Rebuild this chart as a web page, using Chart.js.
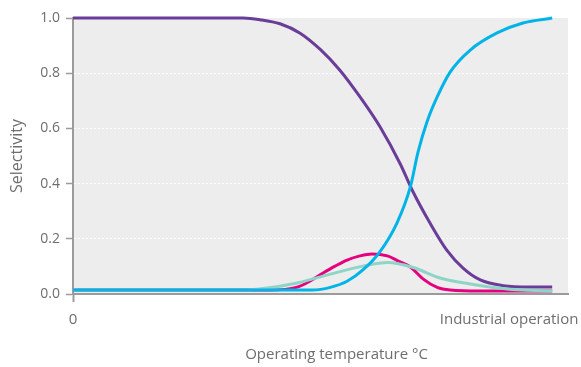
<!DOCTYPE html>
<html>
<head>
<meta charset="utf-8">
<script src="https://cdn.jsdelivr.net/npm/chart.js@4"></script>
<style>
html, body { margin: 0; padding: 0; background: #fff; }
</style>
</head>
<body>
<canvas id="myChart" width="581" height="367"></canvas>
<script>
// x positions are "% of the way to industrial operation"
let xLabels = ['0', 'Industrial operation'];
let xLabelPos = [0, 91];
let yTicks = [0, 0.2, 0.4, 0.6, 0.8, 1.0];
let xTitle = 'Operating temperature °C';
let yTitle = 'Selectivity';

let purpleX = [0, 35.5, 39, 43.2, 47.4, 51.6, 55.7, 59.9, 64.1, 68.3, 70.8, 74.5, 78, 81.4, 85, 89.8, 95.4, 100];
let purpleY = [1.0, 1.0, 0.994, 0.979, 0.945, 0.886, 0.811, 0.714, 0.605, 0.471, 0.376, 0.257, 0.159, 0.094, 0.051, 0.030, 0.025, 0.025];

let cyanX = [0, 50, 53.7, 57.2, 60.5, 64, 67.6, 70.4, 72, 73.9, 76, 78.7, 82.9, 88.5, 93.9, 100];
let cyanY = [0.0145, 0.0145, 0.024, 0.046, 0.087, 0.152, 0.257, 0.388, 0.514, 0.625, 0.714, 0.804, 0.884, 0.946, 0.982, 1.0];

let magentaX = [0, 41, 46.8, 49.5, 52.2, 54.7, 57.2, 59.9, 62.4, 65.6, 67.8, 70.4, 73.1, 76, 78.7, 85, 100];
let magentaY = [0.0145, 0.0145, 0.025, 0.047, 0.076, 0.101, 0.123, 0.138, 0.145, 0.138, 0.12, 0.098, 0.054, 0.024, 0.0145, 0.011, 0.011];

let tealX = [0, 35, 39.7, 46.8, 53.7, 60.5, 65.6, 71, 76.6, 82.9, 88.5, 93.9, 100];
let tealY = [0.0145, 0.0145, 0.02, 0.04, 0.072, 0.101, 0.114, 0.096, 0.058, 0.036, 0.022, 0.0145, 0.011];

function pts(xs, ys) {
    return xs.map((x, i) => ({x: x, y: ys[i]}));
}

const grey = '#6e6e6e';
const axisGrey = '#9b9b9b';
const family = '"Open Sans", sans-serif';

const plotBg = {
    id: 'plotBg',
    beforeDraw(chart) {
        const a = chart.chartArea;
        const ctx = chart.ctx;
        ctx.save();
        ctx.fillStyle = '#ededed';
        ctx.fillRect(a.left, a.top, a.right - a.left, a.bottom - a.top);
        ctx.restore();
    },
    // x title sits a little right of the plot centre in the original
    afterDraw(chart) {
        const a = chart.chartArea;
        const ctx = chart.ctx;
        ctx.save();
        ctx.font = '15px ' + family;
        ctx.fillStyle = grey;
        ctx.textAlign = 'center';
        ctx.textBaseline = 'middle';
        ctx.fillText(xTitle, (a.left + a.right) / 2 + 16, chart.height - 12);
        ctx.restore();
    }
};

function line(data, color) {
    return {
        data: data,
        borderColor: color,
        borderWidth: 3,
        pointRadius: 0,
        fill: false,
        cubicInterpolationMode: 'monotone',
        clip: 5
    };
}

const ctx = document.getElementById('myChart');

var chart = new Chart(ctx, {
    type: 'line',
    data: {
        datasets: [
            line(pts(cyanX, cyanY), '#00b4e8'),
            line(pts(tealX, tealY), '#8ed5c8'),
            line(pts(magentaX, magentaY), '#e5007e'),
            line(pts(purpleX, purpleY), '#6a3d98')
        ]
    },
    plugins: [plotBg],
    options: {
        responsive: false,
        animation: false,
        layout: {padding: {left: 0, right: 13, top: 18, bottom: 0}},
        plugins: {legend: {display: false}, tooltip: {enabled: false}},
        scales: {
            x: {
                type: 'linear',
                min: 0,
                max: 103.3,
                afterBuildTicks: (s) => { s.ticks = xLabelPos.map(v => ({value: v})); },
                afterFit: (s) => { s.height = 73; s.paddingLeft = 0; s.paddingRight = 0; },
                ticks: {
                    autoSkip: false,
                    maxRotation: 0,
                    padding: 9,
                    color: grey,
                    font: {family: family, size: 15},
                    callback: (v, i) => xLabels[i]
                },
                grid: {
                    drawOnChartArea: false,
                    tickLength: 8,
                    tickWidth: 2,
                    tickColor: (c) => c.index === 0 ? axisGrey : 'rgba(0,0,0,0)'
                },
                border: {color: axisGrey, width: 2}
            },
            y: {
                min: 0,
                max: 1,
                afterBuildTicks: (s) => { s.ticks = yTicks.map(v => ({value: v})); },
                afterFit: (s) => { s.width = 73; },
                ticks: {
                    padding: 6,
                    color: grey,
                    font: {family: family, size: 14},
                    callback: (v) => v.toFixed(1)
                },
                grid: {
                    color: (c) => (c.tick && (c.tick.value === 0 || c.tick.value === 1)) ? 'rgba(0,0,0,0)' : '#ffffff',
                    lineWidth: 1,
                    tickLength: 7,
                    tickWidth: 1.5,
                    tickColor: axisGrey,
                    tickBorderDash: []
                },
                border: {color: axisGrey, width: 2, dash: [2, 2]},
                title: {
                    display: true,
                    text: yTitle,
                    color: grey,
                    font: {family: family, size: 16},
                    padding: {top: 8, bottom: 0}
                }
            }
        }
    }
});
</script>
</body>
</html>
